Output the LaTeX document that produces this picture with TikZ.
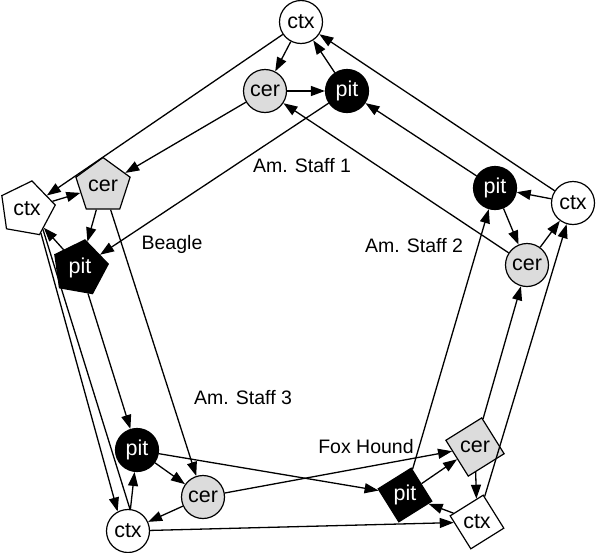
\documentclass[tikz,border=0pt]{standalone}
\usepackage{fontspec}
\setmainfont{Liberation Sans}
\usetikzlibrary{shapes.geometric, arrows.meta}
\definecolor{cergray}{HTML}{DCDCDC}

\begin{document}
\begin{tikzpicture}[x=1pt, y=-1pt,
    every node/.style={font=\fontsize{21.5}{24}\selectfont},
    region/.style={draw, line width=1.2pt, inner sep=0pt},
    circ/.style={region, circle, minimum size=43pt},
    pent/.style={region, regular polygon, regular polygon sides=5, minimum size=57pt},
    dia/.style={region, regular polygon, regular polygon sides=4, minimum size=55pt, shape border rotate=32},
    ctxfill/.style={fill=white},
    cerfill/.style={fill=cergray},
    pitfill/.style={fill=black, text=white},
    link/.style={line width=1.3pt},
    edge/.style={link, -{Triangle[length=14pt,width=10pt]}},
    breed/.style={font=\fontsize{19.5}{22}\selectfont}]
  \useasboundingbox (0,0) rectangle (600,552);

  % Am. Staff 1
  \node[circ, ctxfill] (ctx1) at (301,22) {ctx};
  \node[circ, cerfill] (cer1) at (265,91) {cer};
  \node[circ, pitfill] (pit1) at (347,91) {pit};
  % Am. Staff 2
  \node[circ, pitfill] (pit2) at (495,188) {pit};
  \node[circ, ctxfill] (ctx2) at (573,203) {ctx};
  \node[circ, cerfill] (cer2) at (527,265) {cer};
  % Beagle
  \node[pent, ctxfill, shape border rotate=-10] (ctx3) at (27,209) {ctx};
  \node[pent, cerfill] (cer3) at (103,186) {cer};
  \node[pent, pitfill, shape border rotate=-10] (pit3) at (80,268) {pit};
  % Am. Staff 3
  \node[circ, pitfill] (pit4) at (137,450) {pit};
  \node[circ, cerfill] (cer4) at (203,497) {cer};
  \node[circ, ctxfill] (ctx4) at (128,531) {ctx};
  % Fox Hound
  \node[dia, cerfill] (cer5) at (475,447) {cer};
  \node[dia, pitfill] (pit5) at (405,495) {pit};
  \node[dia, ctxfill] (ctx5) at (477,522) {ctx};

  \node[breed] (lab1) at (302,166) {Am. Staff 1};
  \node[breed] (lab2) at (414,246) {Am. Staff 2};
  \node[breed] (lab3) at (172,244) {Beagle};
  \node[breed] (lab4) at (243,398) {Am. Staff 3};
  \node[breed] (lab5) at (366,447) {Fox Hound};

  % within each dog
  \draw[edge] (ctx1) -- (cer1);
  \draw[edge] (cer1) -- (pit1);
  \draw[edge] (pit1) -- (ctx1);
  \draw[edge] (ctx2) -- (pit2);
  \draw[edge] (pit2) -- (cer2);
  \draw[edge] (cer2) -- (ctx2);
  \draw[edge] (ctx3) -- (cer3);
  \draw[edge] (cer3) -- (pit3);
  \draw[edge] (pit3) -- (ctx3);
  \draw[edge] (pit4) -- (cer4);
  \draw[edge] (cer4) -- (ctx4);
  \draw[edge] (ctx4) -- (pit4);
  \draw[edge] (pit5) -- (cer5);
  \draw[edge] (cer5) -- (ctx5);
  \draw[edge] (ctx5) -- (pit5);

  % between dogs
  \foreach \a/\b in {ctx2/ctx1, cer2/cer1, pit2/pit1,
                     ctx1/ctx3, cer1/cer3, pit1/pit3,
                     cer3/cer4, pit3/pit4,
                     ctx4/ctx5, cer4/cer5, pit4/pit5,
                     ctx5/ctx2, cer5/cer2, pit5/pit2}
    \draw[edge] (\a) -- (\b);
  \draw[edge] (ctx3.-60) -- (ctx4.118);
  \draw[link] (ctx4.85) -- (ctx3.-52);
\end{tikzpicture}
\end{document}
